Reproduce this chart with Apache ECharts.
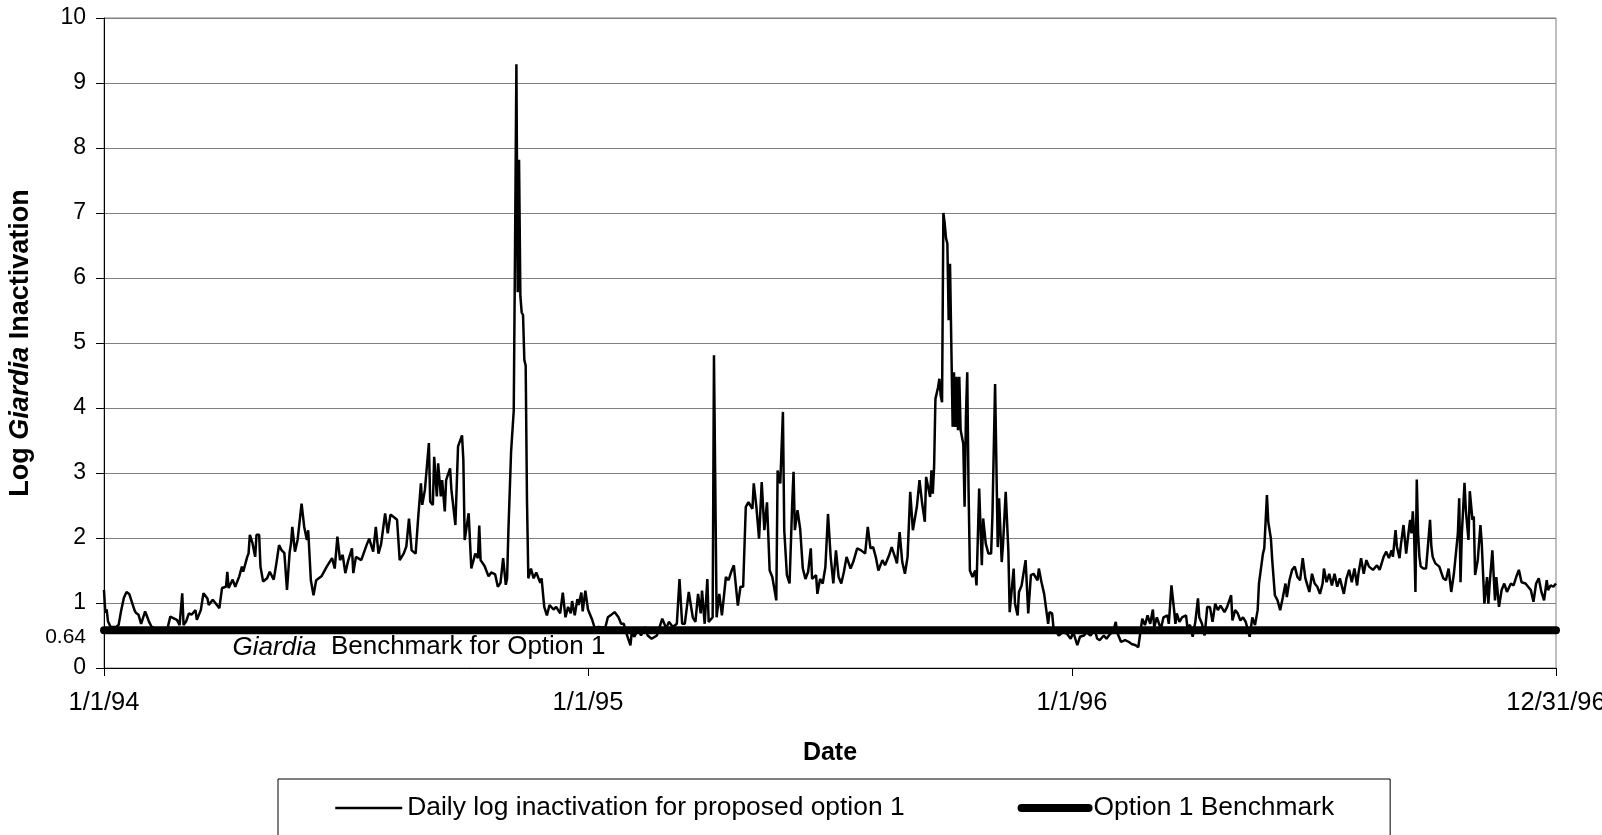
<!DOCTYPE html>
<html>
<head>
<meta charset="utf-8">
<script src="https://cdn.jsdelivr.net/npm/echarts@6/dist/echarts.min.js"></script>
<style>html,body{margin:0;padding:0;background:#fff}#c{width:1602px;height:835px}</style>
</head>
<body>
<div id="c"></div>
<script>
// Day index counted from 1/1/94 (0) to 12/31/96 (1095)
const xTickLabels = ['1/1/94', '1/1/95', '1/1/96', '12/31/96'];
const xTickDays = [0, 365, 730, 1095];
const yTicks = [0, 1, 2, 3, 4, 5, 6, 7, 8, 9, 10];
const benchmarkText = '0.64';       // benchmark as labelled on the axis
const benchmarkDrawn = 0.58;        // level at which the thick benchmark line is drawn in the picture
const benchmarkLabelAt = 0.48;      // where the "0.64" axis label sits in the picture
const annotationDay = 97;
const seriesNames = ['Daily log inactivation for proposed option 1', 'Option 1 Benchmark'];

// [day index, daily log Giardia inactivation]
const dailyLog = [
[0,1.2],[1,0.85],[2,0.9],[3,0.72],[5,0.63],[9,0.63],[11,0.66],[13,0.89],[15,1.08],[17,1.17],[19,1.14],[20,1.12],[23,0.89],[24,0.85],[26,0.82],[28,0.68],[29,0.66],[31,0.87],[32,0.82],[34,0.71],[35,0.72],[36,0.63],[40,0.6],[45,0.6],[48,0.62],[50,0.79],[53,0.76],[55,0.74],[57,0.66],[59,1.15],[60,0.66],[62,0.72],[64,0.84],[66,0.82],[69,0.89],[70,0.74],[73,0.89],[75,1.15],[78,1.07],[79,0.97],[82,1.05],[84,1.0],[87,0.92],[89,1.23],[92,1.25],[93,1.48],[94,1.23],[97,1.36],[99,1.25],[102,1.41],[104,1.56],[105,1.48],[108,1.71],[109,1.76],[110,2.05],[112,1.92],[114,1.71],[115,2.05],[117,2.05],[118,1.56],[120,1.33],[123,1.38],[125,1.48],[128,1.36],[130,1.61],[132,1.89],[134,1.81],
[136,1.77],[138,1.2],[140,1.78],[141,1.91],[142,2.17],[144,1.79],[146,1.97],[149,2.53],[151,2.17],[153,1.97],[154,2.12],[156,1.35],[158,1.12],[160,1.35],[164,1.41],[168,1.56],[172,1.69],[174,1.53],[176,2.02],[178,1.66],[180,1.74],[182,1.46],[184,1.64],[187,1.84],[188,1.46],[190,1.71],[194,1.66],[198,1.89],[200,1.99],[203,1.79],[205,2.17],[207,1.76],[209,1.91],[212,2.38],[214,2.07],[216,2.36],[218,2.33],[221,2.28],[223,1.66],[226,1.76],[228,1.87],[230,2.3],[232,1.81],[235,1.76],[237,2.33],[239,2.84],[240,2.51],[242,2.74],[245,3.46],[246,2.56],[248,2.51],[249,3.25],[251,2.64],[252,3.15],[254,2.64],[255,2.89],[257,2.41],[258,2.89],[261,3.07],[262,2.74],[265,2.2],[267,3.41],[270,3.58],[271,3.2],[272,1.97],[275,2.38],[277,1.53],[280,1.76],
[282,1.69],[283,2.19],[284,1.66],[287,1.57],[290,1.41],[292,1.47],[295,1.44],[297,1.25],[299,1.31],[301,1.69],[303,1.28],[304,1.38],[305,2.13],[307,3.33],[309,3.96],[310,6.53],[311,9.29],[312,5.78],[313,7.82],[314,5.72],[315,5.47],[316,5.43],[317,4.74],[318,4.65],[319,2.57],[320,1.38],[322,1.53],[324,1.38],[326,1.47],[329,1.31],[330,1.38],[332,0.94],[334,0.81],[336,0.97],[339,0.9],[341,0.94],[344,0.84],[346,1.16],[348,0.78],[350,0.94],[352,0.84],[353,1.03],[355,0.81],[357,1.06],[358,0.97],[360,1.16],[361,0.87],[363,1.19],[365,0.9],[368,0.75],[370,0.62],[373,0.63],[378,0.62],[380,0.78],[382,0.81],[385,0.86],
[388,0.78],[390,0.68],[392,0.68],[394,0.53],[397,0.35],[398,0.55],[400,0.48],[403,0.61],[405,0.5],[408,0.63],[410,0.5],[413,0.45],[417,0.5],[421,0.76],[424,0.61],[426,0.71],[429,0.63],[432,0.68],[434,1.37],[436,0.68],[438,0.68],[441,1.17],[444,0.78],[446,0.71],[448,1.14],[450,0.84],[451,1.19],[453,0.68],[455,1.37],[456,0.71],[459,0.78],[460,4.81],[462,0.78],[464,1.14],[466,0.81],[469,1.4],[471,1.35],[473,1.48],[475,1.58],[478,0.96],[480,1.25],[482,1.25],[484,2.48],[486,2.55],[489,2.45],[490,2.84],[492,2.48],[494,1.99],[496,2.86],[498,2.12],[500,2.55],[502,1.5],[504,1.4],[507,1.04],[508,3.04],[510,2.84],[512,3.94],[513,2.12],[515,1.43],[517,1.3],[519,2.53],[520,3.02],[521,2.12],[523,2.43],[525,2.14],[527,1.53],[529,1.37],[531,1.48],[533,1.84],[534,1.37],[537,1.43],[538,1.14],[540,1.37],[542,1.3],
[544,1.55],[546,2.37],[548,1.71],[550,1.3],[552,1.81],[554,1.4],[556,1.3],[558,1.48],[560,1.71],[563,1.53],[565,1.63],[568,1.84],[571,1.81],[574,1.76],[576,2.17],[578,1.84],[580,1.86],[582,1.71],[584,1.5],[587,1.66],[589,1.58],[592,1.73],[594,1.86],[597,1.68],[598,1.61],[600,2.09],[602,1.63],[604,1.45],[606,1.71],[608,2.71],[610,2.12],[611,2.12],[613,2.48],[615,2.89],[617,2.53],[619,2.25],[620,2.94],[621,2.96],[623,2.63],[624,3.04],[625,2.68],[626,3.09],[627,4.14],[629,4.32],[630,4.45],[631,4.19],[632,4.09],[633,7.0],[634,6.84],[635,6.61],[636,6.53],[637,5.35],[638,6.22],[639,6.25],[640,3.71],[641,4.55],[642,3.71],[643,4.48],[644,3.66],[645,4.48],[646,3.66],[648,3.45],[649,2.48],[650,3.86],[651,4.55],[652,2.73],[653,1.5],[655,1.4],[657,1.5],[658,1.27],[660,2.76],[662,1.58],[663,2.3],[665,1.91],[667,1.76],[669,1.76],[670,2.35],[671,2.35],[672,4.37],[674,1.86],[675,2.61],[677,1.63],[678,1.91],[680,2.71],[682,1.81],[683,0.86],[684,0.86],[686,1.53],[687,0.99],[689,0.81],[690,1.17],[692,1.27],[695,1.66],[697,0.84],[699,1.43],[701,1.45],[704,1.35],
[705,1.53],[707,1.32],[709,1.14],[710,1.12],[712,0.68],[713,0.86],[715,0.84],[716,0.63],[720,0.5],[723,0.55],[726,0.53],[729,0.45],[731,0.55],[734,0.35],[736,0.48],[739,0.5],[741,0.55],[744,0.5],[747,0.6],[749,0.45],[751,0.43],[754,0.5],[756,0.45],[759,0.53],[761,0.55],[763,0.71],[764,0.55],[767,0.4],[770,0.43],[773,0.4],[775,0.37],[778,0.35],[780,0.32],[783,0.76],[785,0.66],[787,0.81],[789,0.68],[791,0.9],[792,0.63],[794,0.78],[797,0.6],[799,0.78],[802,0.81],[803,0.68],[805,1.27],[807,0.89],[808,0.68],[809,0.84],[811,0.71],[813,0.78],[816,0.81],[817,0.63],[819,0.66],[821,0.48],[823,0.71],[825,1.07],[826,0.78],[828,0.68],[830,0.5],[832,0.94],[834,0.94],[836,0.71],[838,0.99],[840,0.89],[842,0.96],[845,0.86],[847,0.94],[850,1.12],[851,0.73],[853,0.89],[855,0.84],[857,0.73],[859,0.78],[861,0.71],[864,0.48],[866,0.78],[868,0.66],[870,0.89],[871,1.3],[874,1.76],[875,1.84],[877,2.66],[878,2.25],[880,1.99],[881,1.66],[883,1.12],[885,1.04],[887,0.89],
[889,1.09],[891,1.3],[892,1.09],[894,1.35],[896,1.51],[898,1.56],[900,1.4],[902,1.35],[904,1.69],[906,1.38],[909,1.17],[911,1.45],[913,1.3],[915,1.25],[917,1.14],[919,1.3],[920,1.53],[922,1.32],[924,1.45],[926,1.27],[928,1.45],[930,1.25],[932,1.38],[935,1.14],[937,1.38],[939,1.51],[941,1.32],[943,1.53],[945,1.27],[946,1.45],[948,1.69],[950,1.45],[952,1.66],[954,1.56],[957,1.51],[960,1.58],[962,1.51],[965,1.71],[967,1.79],[969,1.69],[971,1.81],[972,1.71],[974,2.12],[975,1.87],[977,1.69],[978,1.89],[980,2.2],[982,1.76],[984,2.12],[985,2.28],[986,2.07],[987,2.41],[988,2.07],[989,1.17],[990,2.9],[991,2.07],[992,1.71],[993,1.56],[995,1.53],[997,1.53],[999,2.02],[1000,2.28],[1001,1.87],[1002,1.71],[1004,1.61],[1007,1.56],[1010,1.38],[1012,1.35],[1014,1.53],[1016,1.17],[1018,1.45],[1019,1.45],[1021,2.07],[1022,2.61],[1023,1.32],[1024,2.07],[1026,2.85],[1027,2.43],[1029,1.97],[1030,2.72],[1032,2.28],[1033,2.33],[1034,1.43],[1036,1.66],[1038,2.2],[1039,1.92],[1041,0.99],[1043,1.4],[1044,0.99],[1045,1.3],[1047,1.81],[1049,1.04],[1050,1.4],[1052,0.94],[1054,1.2],[1056,1.3],[1058,1.17],[1061,1.3],[1063,1.27],[1065,1.4],[1067,1.51],[1069,1.32],[1072,1.3],[1074,1.25],[1076,1.2],[1078,1.02],[1080,1.3],[1082,1.38],[1084,1.17],[1086,1.04],[1088,1.35],[1089,1.2],[1091,1.27],[1093,1.25],[1095,1.3]
];

const FONT = '"Liberation Sans", Arial, Helvetica, sans-serif';
const chart = echarts.init(document.getElementById('c'), null, {renderer: 'canvas'});

const option = {
  backgroundColor: '#fff',
  animation: false,
  textStyle: {fontFamily: FONT, color: '#000'},
  grid: {left: 104, right: 46, top: 18, bottom: 167, show: true, borderColor: '#808080', borderWidth: 1,
         outerBoundsMode: 'none', containLabel: false},
  legend: {
    left: 278, top: 779,
    padding: [16, 56, 16, 56],
    borderColor: '#000', borderWidth: 1,
    itemWidth: 67, itemHeight: 14, itemGap: 113,
    itemStyle: {opacity: 0},
    textStyle: {fontSize: 26.4, color: '#000', fontFamily: FONT},
    data: [
      {name: seriesNames[0], lineStyle: {width: 2.5, color: '#000'}},
      {name: seriesNames[1], lineStyle: {width: 8, color: '#000', cap: 'round'}}
    ]
  },
  xAxis: {
    type: 'value',
    min: xTickDays[0], max: xTickDays[xTickDays.length - 1], interval: 365,
    name: 'Date', nameLocation: 'middle', nameGap: 73,
    nameTextStyle: {fontSize: 25, fontWeight: 'bold', color: '#000', fontFamily: FONT},
    axisLine: {lineStyle: {color: '#000', width: 1}},
    axisTick: {show: true, inside: false, length: 8, lineStyle: {color: '#000'}},
    axisLabel: {
      fontSize: 25.5, color: '#000', margin: 22, fontFamily: FONT,
      showMinLabel: true, showMaxLabel: true, hideOverlap: false,
      formatter: function (v) { const i = xTickDays.indexOf(Math.round(v)); return i >= 0 ? xTickLabels[i] : ''; }
    },
    splitLine: {show: false}
  },
  yAxis: {
    type: 'value', min: 0, max: 10, interval: 1,
    name: 'Log {i|Giardia} Inactivation', nameLocation: 'middle', nameGap: 66,
    nameTextStyle: {
      fontSize: 27, fontWeight: 'bold', color: '#000', fontFamily: FONT,
      rich: {i: {fontSize: 27, fontWeight: 'bold', fontStyle: 'italic', color: '#000', fontFamily: FONT}}
    },
    axisLine: {show: true, lineStyle: {color: '#000', width: 1}},
    axisTick: {show: true, inside: false, length: 8, lineStyle: {color: '#000'}, customValues: yTicks},
    axisLabel: {
      fontSize: 23, color: '#000', margin: 18, fontFamily: FONT,
      customValues: yTicks.concat([benchmarkLabelAt]),
      formatter: function (v) { return Math.abs(v - benchmarkLabelAt) < 1e-6 ? '{s|' + benchmarkText + '}' : String(v); },
      rich: {s: {fontSize: 21, color: '#000', fontFamily: FONT}}
    },
    splitLine: {show: true, lineStyle: {color: '#808080', width: 1}}
  },
  series: [
    {
      name: seriesNames[0], type: 'line', data: dailyLog,
      showSymbol: false, symbol: 'none',
      lineStyle: {color: '#000', width: 2.5},
      itemStyle: {color: '#000'},
      z: 3
    },
    {
      name: seriesNames[1], type: 'line',
      data: [[xTickDays[0], benchmarkDrawn], [xTickDays[xTickDays.length - 1], benchmarkDrawn]],
      showSymbol: false, symbol: 'none', clip: false,
      lineStyle: {color: '#000', width: 8, cap: 'round'},
      itemStyle: {color: '#000'},
      z: 2,
      markPoint: {
        silent: true, symbol: 'rect', symbolSize: 0,
        data: [{coord: [annotationDay, benchmarkDrawn]}],
        label: {
          show: true, position: 'right', distance: 0, offset: [0, 17],
          formatter: '{i|Giardia}  Benchmark for Option 1',
          fontSize: 26, color: '#000', fontFamily: FONT,
          rich: {i: {fontSize: 26, fontStyle: 'italic', color: '#000', fontFamily: FONT}}
        }
      }
    }
  ]
};
chart.setOption(option);
</script>
</body>
</html>
